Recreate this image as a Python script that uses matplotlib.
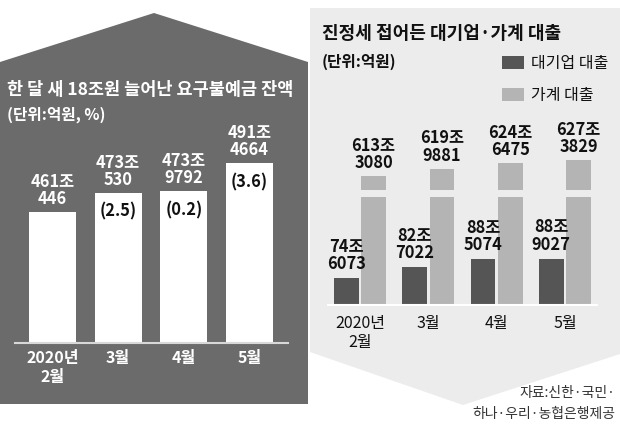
import matplotlib
matplotlib.use("Agg")
import matplotlib.pyplot as plt
from matplotlib.patches import Polygon

plt.rcParams['font.family'] = ['Noto Sans CJK KR', 'DejaVu Sans']

# 요구불예금 잔액 (억원), 전월 대비 증감률(%)
months = ["2020년\n2월", "3월", "4월", "5월"]
deposit = [4610446, 4730530, 4739792, 4914664]
deposit_pct = [None, 2.5, 0.2, 3.6]

# 대기업 / 가계 대출 (억원)
corp_loan = [746073, 827022, 885074, 889027]
house_loan = [6133080, 6199881, 6246475, 6273829]

W, H = 620, 428
fig = plt.figure(figsize=(W / 100, H / 100), dpi=100)


def px_axes(x0, y0, x1, y1):
    # axes placed by pixel box (top-left origin)
    ax = fig.add_axes([x0 / W, 1 - y1 / H, (x1 - x0) / W, (y1 - y0) / H])
    ax.set_facecolor("none")
    return ax


def jo(v):
    return f"{v // 10000}조\n{v % 10000}"


# background shapes
bg = fig.add_axes([0, 0, 1, 1])
bg.set_xlim(0, W)
bg.set_ylim(H, 0)
bg.axis("off")
bg.add_patch(Polygon([(310, 8), (620, 8), (620, 354), (463, 405), (310, 352)],
                     closed=True, facecolor="#ececec", edgecolor="none"))
bg.add_patch(Polygon([(0, 62), (154, 13), (308, 62), (308, 404), (0, 404)],
                     closed=True, facecolor="#6b6b6b", edgecolor="none"))

# ---- left panel
bg.text(7, 90, "한 달 새 18조원 늘어난 요구불예금 잔액", color="white", fontsize=12.6,
        fontweight="bold", va="center", ha="left")
bg.text(7, 115, "(단위:억원, %)", color="white", fontsize=11.3,
        fontweight="bold", va="center", ha="left")

s_left = 1.6
axl = px_axes(15, 100, 288, 343)
xs = range(len(months))
dep_jo = [v / 10000 for v in deposit]
axl.bar(xs, dep_jo, width=0.716, color="white")
axl.set_xlim(-0.571, 3.586)
axl.set_ylim(379.2, 379.2 + 243 / s_left)
for sp in ["top", "left", "right"]:
    axl.spines[sp].set_visible(False)
axl.spines["bottom"].set_color("#d8d8d8")
axl.spines["bottom"].set_linewidth(1.5)
axl.set_yticks([])
axl.set_xticks(list(xs))
axl.set_xticklabels(months, color="white", fontsize=11.5, fontweight="bold")
axl.tick_params(axis="x", length=0, pad=5)
for i, v in enumerate(deposit):
    axl.annotate(jo(v), (i, v / 10000), xytext=(0, 4), textcoords="offset pixels",
                 ha="center", va="bottom", color="white", fontsize=11.8,
                 fontweight="bold", linespacing=0.95, annotation_clip=False)
    if deposit_pct[i] is not None:
        axl.annotate(f"({deposit_pct[i]})", (i, v / 10000), xytext=(0, -19),
                     textcoords="offset pixels", ha="center", va="center",
                     color="#111111", fontsize=11.8, fontweight="bold")

# ---- right panel
bg.text(322, 33, "진정세 접어든 대기업·가계 대출", color="#111111", fontsize=13,
        fontweight="bold", va="center", ha="left")
bg.text(322, 62, "(단위:억원)", color="#111111", fontsize=11.3,
        fontweight="bold", va="center", ha="left")

dark, light = "#555555", "#b4b4b4"
off, bw = 0.2, 0.36
corp_jo = [v / 10000 for v in corp_loan]
house_jo = [v / 10000 for v in house_loan]

# lower part (broken axis)
s_b = 1.346
axb = px_axes(328, 197, 597, 305)
b_corp = axb.bar([i - off for i in xs], corp_jo, width=bw, color=dark, label="대기업 대출")
b_house = axb.bar([i + off for i in xs], house_jo, width=bw, color=light, label="가계 대출")
axb.set_xlim(-0.469, 3.47)
axb.set_ylim(54.5, 54.5 + 108 / s_b)
for sp in ["top", "left", "right"]:
    axb.spines[sp].set_visible(False)
axb.spines["bottom"].set_color("white")
axb.spines["bottom"].set_linewidth(1.5)
axb.set_yticks([])
axb.set_xticks(list(xs))
axb.set_xticklabels(months, color="#111111", fontsize=11.5)
axb.tick_params(axis="x", length=0, pad=7)
for i, v in enumerate(corp_loan):
    axb.annotate(jo(v), (i - off, v / 10000), xytext=(0, 5), textcoords="offset pixels",
                 ha="center", va="bottom", color="#111111", fontsize=11.8,
                 fontweight="bold", linespacing=0.95, annotation_clip=False)

# upper part
s_t = 1.148
axt = px_axes(328, 140, 597, 190)
axt.bar([i + off for i in xs], house_jo, width=bw, color=light)
axt.set_xlim(-0.469, 3.47)
axt.set_ylim(601.3, 601.3 + 50 / s_t)
axt.axis("off")
for i, v in enumerate(house_loan):
    axt.annotate(jo(v), (i + off, v / 10000), xytext=(0, 4), textcoords="offset pixels",
                 ha="center", va="bottom", color="#111111", fontsize=11.8,
                 fontweight="bold", linespacing=0.95, annotation_clip=False)

fig.legend(handles=[b_corp, b_house], loc="upper left",
           bbox_to_anchor=(502 / W, 1 - 55 / H), frameon=False, fontsize=11.5,
           handlelength=1.4, handleheight=0.85, handletextpad=0.4,
           labelspacing=0.95, borderpad=0, borderaxespad=0, labelcolor="#111111")

bg.text(615, 393, "자료:신한·국민·", color="#333333", fontsize=10, ha="right", va="center")
bg.text(615, 414, "하나·우리·농협은행제공", color="#333333", fontsize=10, ha="right", va="center")

fig.savefig("out.png", dpi=100)
